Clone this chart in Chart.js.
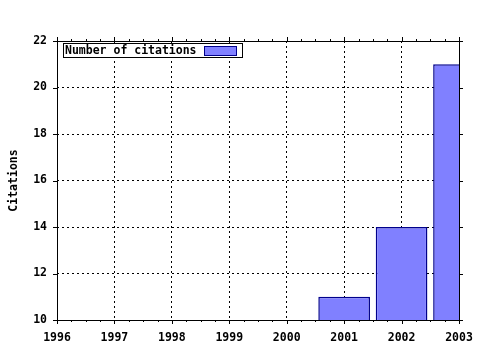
<!DOCTYPE html>
<html>
<head>
  <title>Citations</title>
  <meta charset="utf-8">
  <style type="text/css">
    body { margin: 0; background: #fff; }
    #wrap { width: 480px; height: 350px; }
  </style>
  <script src="https://cdn.jsdelivr.net/npm/chart.js@4.4.0/dist/chart.umd.min.js"></script>
</head>
<body>
  <div id="wrap"><canvas id="graph" width="480" height="350"></canvas></div>
  <script>
    // data
    var YEARS = [2001, 2002, 2003]
      , CITATIONS = [11, 14, 21]
      , SERIES_LABEL = 'Number of citations'
      , X_MIN = 1996, X_MAX = 2003
      , Y_MIN = 10, Y_MAX = 22, Y_STEP = 2;

    var FONT = { family: 'DejaVu Sans Mono', size: 11.5, weight: 'bold' }
      , FILL = '#8080ff'
      , EDGE = '#00008b';

    // gnuplot style frame: outward ticks, minor x ticks, mirrored top/right border
    var frame = {
      id: 'frame',
      afterDraw: function(chart) {
        var c = chart.ctx, a = chart.chartArea;
        var xs = chart.scales.x, ys = chart.scales.y;
        c.save();
        c.strokeStyle = '#000';
        c.lineWidth = 1;
        c.beginPath();
        c.rect(a.left + 0.5, a.top + 0.5, a.right - a.left, a.bottom - a.top);
        for (var v = X_MIN; v <= X_MAX + 1e-6; v += 0.25) {
          var px = Math.round(xs.getPixelForValue(v)) + 0.5;
          var len = Math.abs(v - Math.round(v)) < 1e-6 ? 4 : 2;
          c.moveTo(px, a.bottom); c.lineTo(px, a.bottom + len);
          c.moveTo(px, a.top); c.lineTo(px, a.top - len);
        }
        for (var y = Y_MIN; y <= Y_MAX; y += Y_STEP) {
          var py = Math.round(ys.getPixelForValue(y)) + 0.5;
          c.moveTo(a.left, py); c.lineTo(a.left - 4, py);
          c.moveTo(a.right, py); c.lineTo(a.right + 4, py);
        }
        c.stroke();

        // legend, text then sample box
        var ds = chart.data.datasets[0];
        var lx = a.left + 6, ly = a.top + 2;
        c.fillStyle = '#fff';
        c.fillRect(lx, ly, 179, 14);
        c.strokeRect(lx + 0.5, ly + 0.5, 179, 14);
        c.font = FONT.weight + ' ' + FONT.size + 'px ' + FONT.family;
        c.fillStyle = '#000';
        c.textBaseline = 'middle';
        c.textAlign = 'left';
        c.fillText(ds.label, lx + 2, ly + 8);
        c.fillStyle = ds.backgroundColor;
        c.fillRect(lx + 141, ly + 3, 32, 9);
        c.strokeStyle = ds.borderColor;
        c.strokeRect(lx + 141.5, ly + 3.5, 32, 9);
        c.restore();
      }
    };

    var points = YEARS.map(function(yr, i) { return { x: yr, y: CITATIONS[i] }; });

    new Chart(document.getElementById('graph'), {
      type: 'bar',
      data: {
        datasets: [{
          label: SERIES_LABEL,
          data: points,
          backgroundColor: FILL,
          borderColor: EDGE,
          borderWidth: 1.5,
          barPercentage: 1,
          categoryPercentage: 0.9
        }]
      },
      plugins: [frame],
      options: {
        responsive: false,
        animation: false,
        layout: { padding: { top: 41, right: 21, left: 0, bottom: 0 } },
        plugins: { legend: { display: false }, tooltip: { enabled: false } },
        scales: {
          x: {
            type: 'linear',
            min: X_MIN, max: X_MAX,
            offset: false,
            afterFit: function(s) { s.height = 30; s.paddingLeft = 0; s.paddingRight = 0; },
            ticks: { stepSize: 1, color: '#000', font: FONT, padding: 11, maxRotation: 0,
                     callback: function(v) { return String(v); } },
            grid: { offset: false, color: '#000', lineWidth: 1, drawTicks: false },
            border: { display: false, dash: [2, 3] }
          },
          y: {
            min: Y_MIN, max: Y_MAX,
            afterFit: function(s) { s.width = 57; },
            ticks: { stepSize: Y_STEP, color: '#000', font: FONT, padding: 10 },
            grid: { color: '#000', lineWidth: 1, drawTicks: false },
            border: { display: false, dash: [2, 3] },
            title: { display: true, text: 'Citations', color: '#000', font: FONT, padding: { top: 7, bottom: 0 } }
          }
        }
      }
    });
  </script>
</body>
</html>
